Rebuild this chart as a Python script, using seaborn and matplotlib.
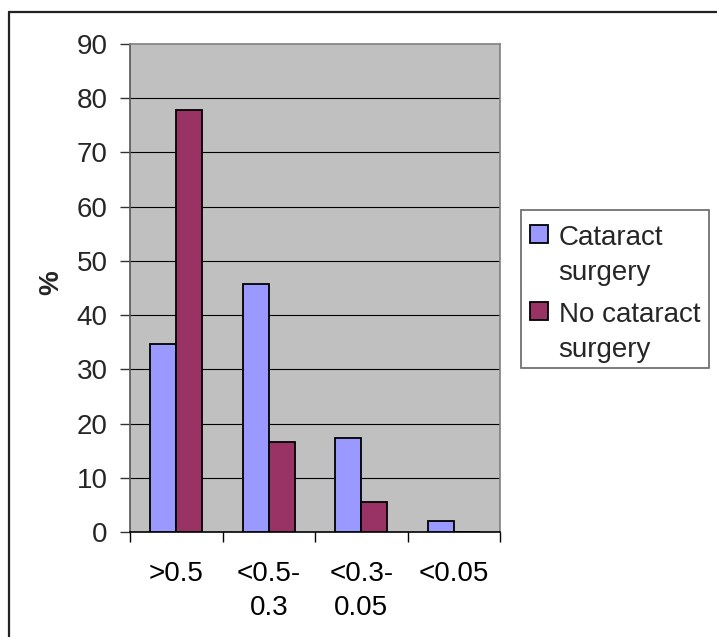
import matplotlib
matplotlib.use("Agg")
import matplotlib.pyplot as plt
from matplotlib.lines import Line2D
from matplotlib.patches import Rectangle
from matplotlib.legend_handler import HandlerPatch
import seaborn as sns
import pandas as pd

# Visual acuity groups and share of eyes (%) in each group
categories = [">0.5", "<0.5-0.3", "<0.3-0.05", "<0.05"]
tick_labels = [">0.5", "<0.5-\n0.3", "<0.3-\n0.05", "<0.05"]
series_names = ["Cataract surgery", "No cataract surgery"]
cataract = [34.6, 45.7, 17.3, 2.1]
no_cataract = [77.8, 16.6, 5.5, 0.0]
legend_labels = ["Cataract\nsurgery", "No cataract\nsurgery"]
y_ticks = [0, 10, 20, 30, 40, 50, 60, 70, 80, 90]

df = pd.DataFrame({
    "group": categories * 2,
    "series": [series_names[0]] * 4 + [series_names[1]] * 4,
    "value": cataract + no_cataract,
})

sns.set_theme(style="white")
plt.rcParams["font.family"] = ["Liberation Sans", "DejaVu Sans"]
FS = 20

W, H = 717, 637
fig = plt.figure(figsize=(W / 100, H / 100), dpi=100)
fig.patch.set_facecolor("white")
ax = fig.add_axes([130 / W, (H - 532) / H, 370 / W, (532 - 44) / H])
ax.set_facecolor("#C0C0C0")

palette = {series_names[0]: "#9999FF", series_names[1]: "#993366"}
sns.barplot(data=df, x="group", y="value", hue="series", order=categories,
            hue_order=series_names, palette=palette, width=0.56,
            edgecolor="black", linewidth=1.3, saturation=1, ax=ax, zorder=3)

ax.set_xlim(-0.5, 3.5)
ax.set_ylim(0, 90)
ax.set_yticks(y_ticks)
ax.set_yticklabels([str(t) for t in y_ticks], fontsize=FS)
ax.set_xticks(range(4))
ax.set_xticklabels(tick_labels, fontsize=FS, linespacing=1.4)
ax.set_xticks([-0.5, 0.5, 1.5, 2.5, 3.5], minor=True)
ax.tick_params(axis="x", which="major", length=0, pad=21, colors="black")
ax.tick_params(axis="x", which="minor", length=7, width=1, color="black",
               direction="out", bottom=True)
ax.tick_params(axis="y", length=7, width=1, color="#333333", pad=9,
               direction="out", left=True)

for t in y_ticks[1:-1]:
    ax.axhline(t, color="black", linewidth=0.8, zorder=1)

for side in ["top", "right"]:
    ax.spines[side].set_color("#808080")
    ax.spines[side].set_linewidth(1.2)
ax.spines["left"].set_color("#555555")
ax.spines["left"].set_linewidth(1.2)
ax.spines["bottom"].set_color("black")
ax.spines["bottom"].set_linewidth(1.2)

ax.set_xlabel("")
ax.set_ylabel("%", fontsize=FS, fontweight="bold", labelpad=0)
ax.yaxis.set_label_coords(-0.178, 0.51)


def top_aligned_square(legend, orig_handle, xdescent, ydescent, width, height, fontsize):
    return Rectangle((-xdescent, -ydescent + 0.8 * fontsize), width, height)


handles = [Rectangle((0, 0), 1, 1, facecolor=palette[s], edgecolor="black", linewidth=1.3)
           for s in series_names]
if ax.get_legend() is not None:
    ax.get_legend().remove()

# Legend frame box
fig.add_artist(Rectangle((521 / W, 1 - 368 / H), (709 - 521) / W, (368 - 210) / H,
                         transform=fig.transFigure, facecolor="white",
                         edgecolor="#666666", linewidth=1.2))
leg = fig.legend(handles, legend_labels, loc="upper left",
                 bbox_to_anchor=(522 / W, 1 - 217 / H), fontsize=FS,
                 frameon=False,
                 handlelength=0.62, handleheight=0.62, handletextpad=0.4,
                 borderpad=0.3, labelspacing=0.6, borderaxespad=0,
                 handler_map={Rectangle: HandlerPatch(patch_func=top_aligned_square)})
for txt in leg.get_texts():
    txt.set_linespacing(1.42)

# Chart frame (left and top edges)
fig.add_artist(Line2D([9 / W, 9 / W], [0, 1 - 12 / H], color="#222222", linewidth=1.6))
fig.add_artist(Line2D([9 / W, 1], [1 - 12 / H, 1 - 12 / H], color="#222222", linewidth=1.6))

fig.savefig("out.png", dpi=100)
